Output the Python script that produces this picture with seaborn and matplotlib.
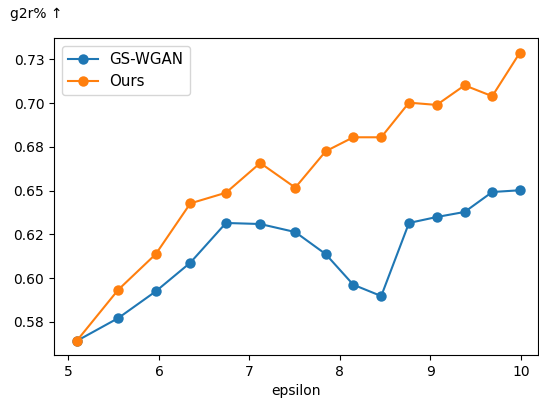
import matplotlib
matplotlib.use("Agg")
import matplotlib.pyplot as plt
import seaborn as sns
import pandas as pd

epsilon = [5.09, 5.55, 5.965, 6.347, 6.741, 7.12, 7.507, 7.843, 8.148, 8.457, 8.764, 9.07, 9.379, 9.684, 9.99]
gs_wgan = [0.564, 0.5771, 0.5924, 0.6088, 0.6315, 0.6309, 0.6263, 0.6137, 0.5962, 0.5897, 0.6315, 0.6349, 0.6378, 0.6492, 0.6502]
ours = [0.564, 0.5933, 0.6137, 0.6427, 0.6488, 0.6658, 0.6517, 0.6725, 0.6805, 0.6805, 0.7003, 0.6990, 0.7102, 0.7040, 0.7289]
series_names = ["GS-WGAN", "Ours"]
ytick_vals = [0.575, 0.600, 0.625, 0.650, 0.675, 0.700, 0.725]
ytick_labels = ["0.58", "0.60", "0.62", "0.65", "0.68", "0.70", "0.73"]
xtick_vals = [5, 6, 7, 8, 9, 10]

df = pd.DataFrame({
    "epsilon": epsilon * 2,
    "value": gs_wgan + ours,
    "method": [series_names[0]] * len(epsilon) + [series_names[1]] * len(epsilon),
})

fig = plt.figure(figsize=(5.39, 4.0), dpi=100)
ax = fig.add_axes([54 / 539, 45 / 400, (538 - 54) / 539, (355 - 38.3) / 400])
sns.lineplot(data=df, x="epsilon", y="value", hue="method", marker="o",
             markersize=7.5, markeredgewidth=0, linewidth=1.5,
             palette=["#1f77b4", "#ff7f0e"], ax=ax)
ax.set_xlim(4.84, 10.19)
ax.set_ylim(0.556, 0.7371)
ax.set_xticks(xtick_vals)
ax.set_xticklabels([str(v) for v in xtick_vals])
ax.set_yticks(ytick_vals)
ax.set_yticklabels(ytick_labels)
ax.set_xlabel("epsilon")
ax.set_ylabel("")
ax.legend(loc="upper left", title=None, fontsize=10.8)
fig.text(10 / 539, 1 - 14 / 400, "g2r% ↑", ha="left", va="center", fontsize=10)
fig.savefig("out.png", dpi=100)
